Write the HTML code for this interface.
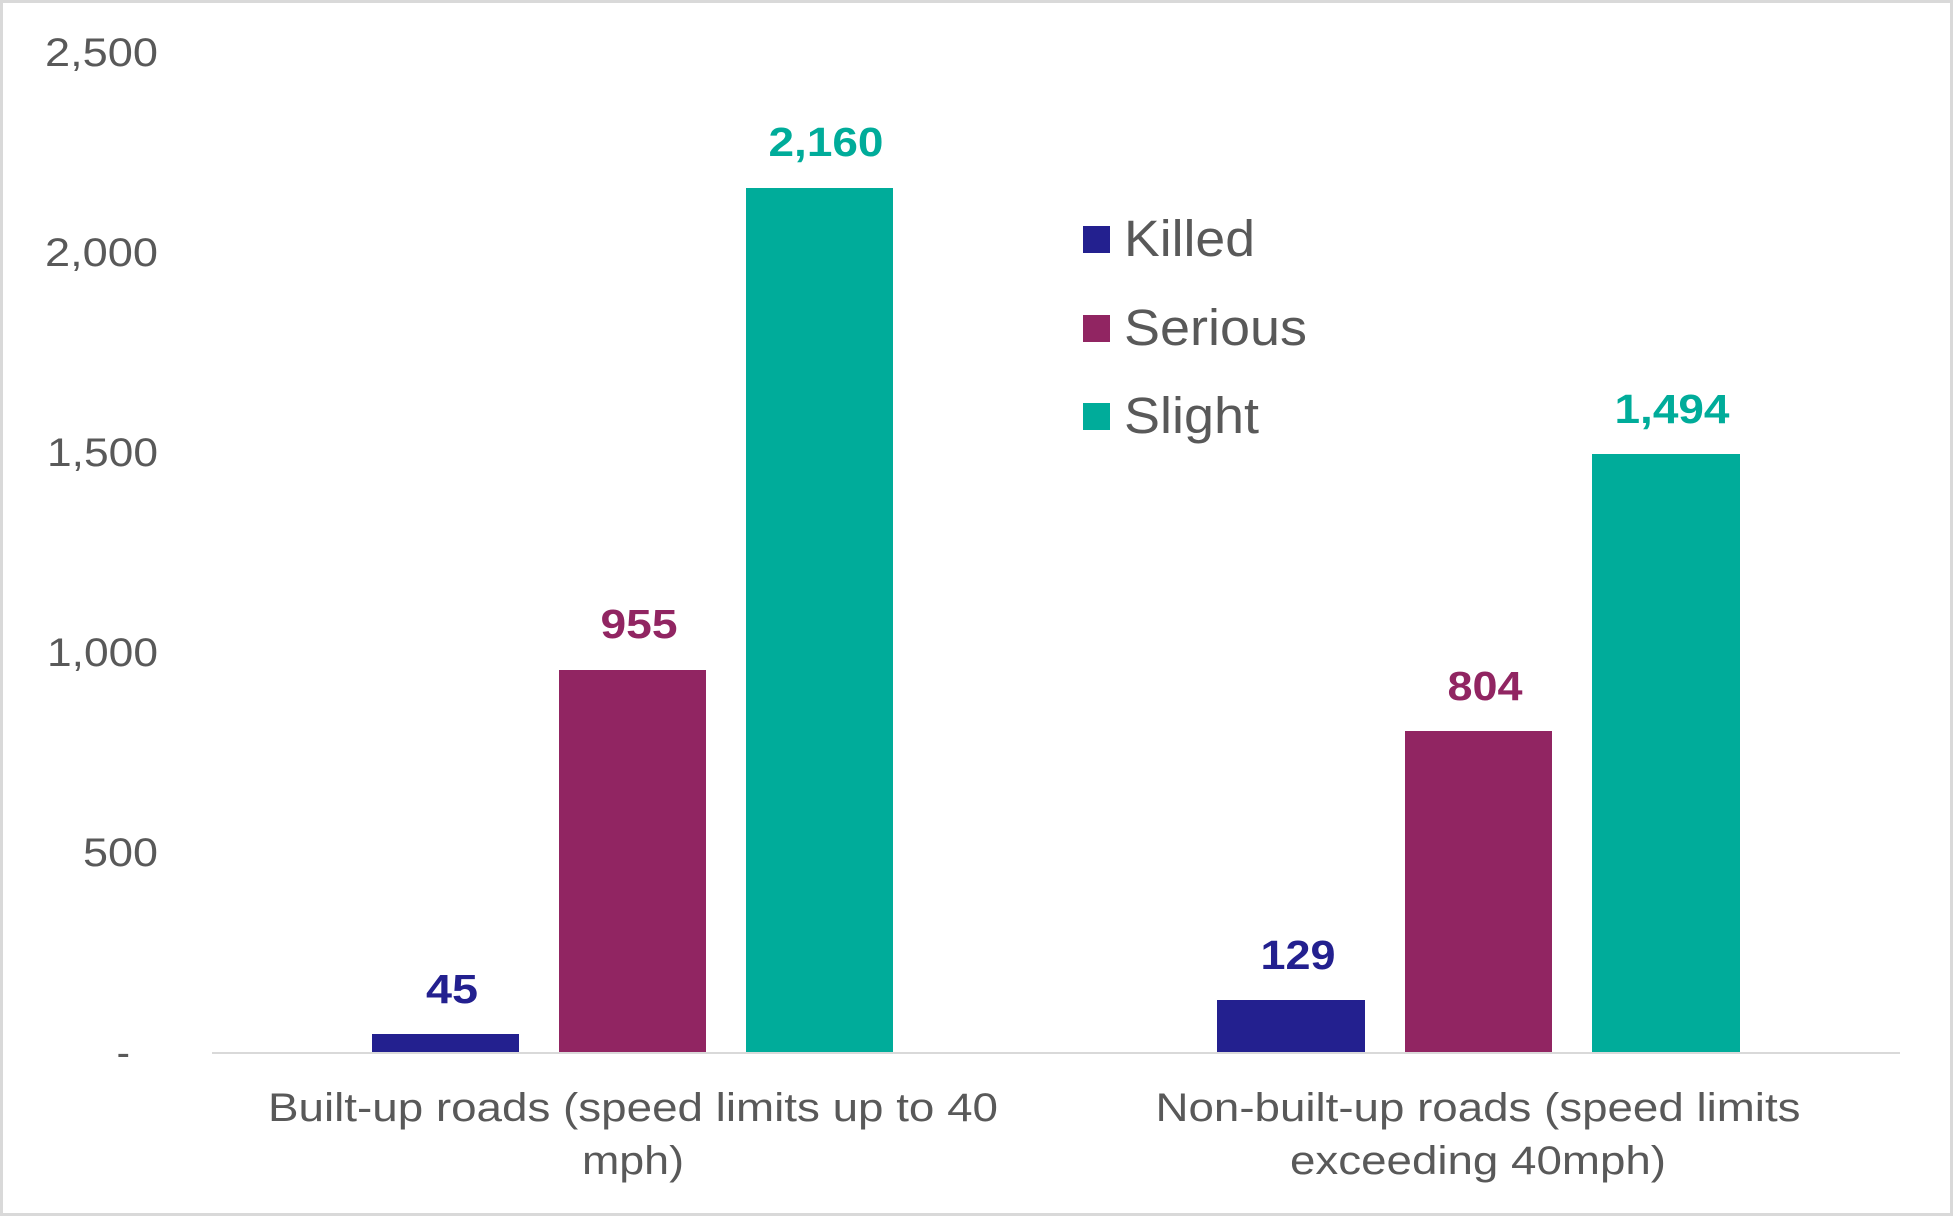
<!DOCTYPE html>
<html><head><meta charset="utf-8"><style>
html,body{margin:0;padding:0;background:#fff}
svg{display:block}
text{font-family:"Liberation Sans",Arial,sans-serif}
</style></head><body>
<svg width="1953" height="1216" viewBox="0 0 1953 1216" xmlns="http://www.w3.org/2000/svg">
<rect x="1.5" y="1.5" width="1950" height="1213" fill="#fff" stroke="#d9d9d9" stroke-width="3"/>
<g fill="#595959" font-size="40" text-anchor="end" lengthAdjust="spacingAndGlyphs">
<text x="158" y="66" textLength="113" lengthAdjust="spacingAndGlyphs">2,500</text>
<text x="158" y="266" textLength="113" lengthAdjust="spacingAndGlyphs">2,000</text>
<text x="158" y="466" textLength="111" lengthAdjust="spacingAndGlyphs">1,500</text>
<text x="158" y="666" textLength="111" lengthAdjust="spacingAndGlyphs">1,000</text>
<text x="158" y="866" textLength="75" lengthAdjust="spacingAndGlyphs">500</text>
<text x="130" y="1066">-</text>
</g>
<line x1="212" y1="1053" x2="1900" y2="1053" stroke="#d9d9d9" stroke-width="2"/>
<rect x="372" y="1034" width="147" height="18" fill="#23208f"/>
<rect x="559" y="670" width="147" height="382" fill="#912562"/>
<rect x="746" y="188" width="147" height="864" fill="#00ac9a"/>
<rect x="1217" y="1000" width="148" height="52" fill="#23208f"/>
<rect x="1405" y="731" width="147" height="321" fill="#912562"/>
<rect x="1592" y="454" width="148" height="598" fill="#00ac9a"/>
<g font-size="41" font-weight="bold" text-anchor="middle">
<text x="452" y="1003" fill="#23208f" textLength="52" lengthAdjust="spacingAndGlyphs">45</text>
<text x="639" y="638" fill="#912562" textLength="77" lengthAdjust="spacingAndGlyphs">955</text>
<text x="826" y="156" fill="#00ac9a" textLength="115" lengthAdjust="spacingAndGlyphs">2,160</text>
<text x="1298" y="969" fill="#23208f" textLength="75" lengthAdjust="spacingAndGlyphs">129</text>
<text x="1485" y="700" fill="#912562" textLength="75" lengthAdjust="spacingAndGlyphs">804</text>
<text x="1672" y="423" fill="#00ac9a" textLength="115" lengthAdjust="spacingAndGlyphs">1,494</text>
</g>
<rect x="1083" y="226" width="27" height="27" fill="#23208f"/>
<rect x="1083" y="315" width="27" height="27" fill="#912562"/>
<rect x="1083" y="403" width="27" height="27" fill="#00ac9a"/>
<g fill="#595959" font-size="51">
<text x="1124" y="256" textLength="131" lengthAdjust="spacingAndGlyphs">Killed</text>
<text x="1124" y="345" textLength="183" lengthAdjust="spacingAndGlyphs">Serious</text>
<text x="1124" y="433" textLength="135" lengthAdjust="spacingAndGlyphs">Slight</text>
</g>
<g fill="#595959" font-size="40" text-anchor="middle">
<text x="633" y="1121" textLength="730" lengthAdjust="spacingAndGlyphs">Built-up roads (speed limits up to 40</text>
<text x="633" y="1174" textLength="102" lengthAdjust="spacingAndGlyphs">mph)</text>
<text x="1478" y="1121" textLength="645" lengthAdjust="spacingAndGlyphs">Non-built-up roads (speed limits</text>
<text x="1478" y="1174" textLength="376" lengthAdjust="spacingAndGlyphs">exceeding 40mph)</text>
</g>
</svg>
</body></html>
